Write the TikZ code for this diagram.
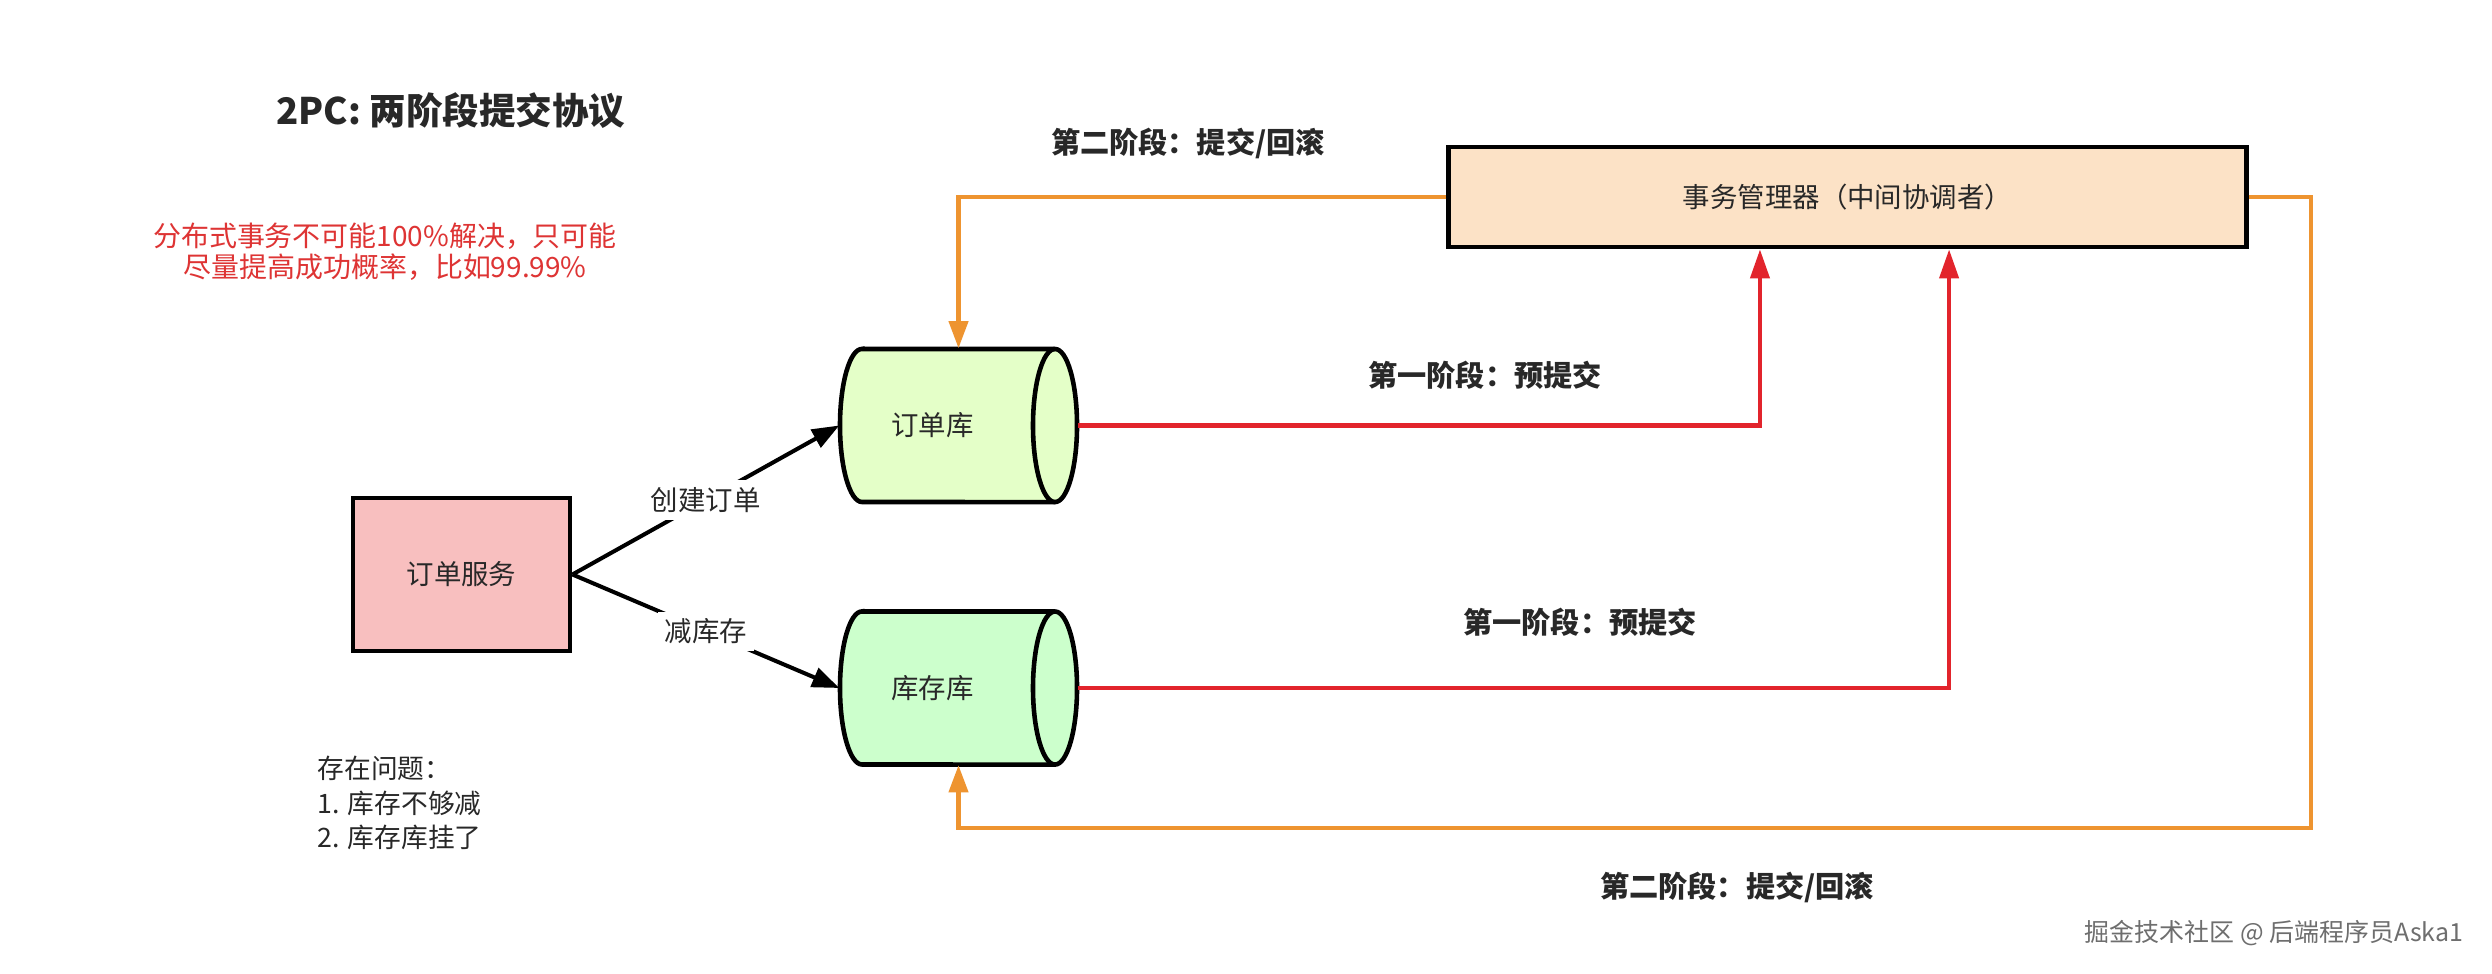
\documentclass[tikz,border=0pt]{standalone}
\usepackage{fontspec}
\setmainfont{Noto Sans CJK SC}
\usetikzlibrary{arrows.meta,calc}
\definecolor{svcfill}{RGB}{248,191,191}
\definecolor{ordfill}{RGB}{228,255,200}
\definecolor{stkfill}{RGB}{204,255,204}
\definecolor{mgrfill}{RGB}{252,226,198}
\definecolor{orangeln}{RGB}{238,148,48}
\definecolor{redln}{RGB}{226,36,44}
\definecolor{redtxt}{RGB}{222,52,52}
\definecolor{wmgray}{RGB}{110,110,110}
\definecolor{txt}{RGB}{40,40,40}
\newcommand\hcyl[5]{%
  \filldraw[cyl, fill=#5] ({#1-#3/2+22},{-#2+#4/2}) -- ({#1+#3/2-22},{-#2+#4/2})
    arc[start angle=90,end angle=-90,x radius=6.26pt,y radius={#4*0.14226pt}]
    -- ({#1-#3/2+22},{-#2-#4/2})
    arc[start angle=270,end angle=90,x radius=6.26pt,y radius={#4*0.14226pt}] -- cycle;
  \draw[cyl] ({#1+#3/2-22},{-#2+#4/2})
    arc[start angle=90,end angle=270,x radius=6.26pt,y radius={#4*0.14226pt}];
}
\begin{document}
\begin{tikzpicture}[x=0.01cm,y=0.01cm,
  every node/.style={font=\fontsize{7.8}{9.8}\selectfont, inner sep=0pt, text=txt},
  box/.style={draw=black, line width=1.35pt},
  cyl/.style={draw=black, line width=1.3pt},
  phase/.style={font=\fontsize{8.3}{10}\selectfont\bfseries},
  blackarrow/.style={draw=black, line width=1.15pt, -{Triangle[length=0.27cm,width=0.2cm]}},
  redarrow/.style={draw=redln, line width=1.15pt, -{Triangle[length=0.29cm,width=0.19cm]}},
  orangearrow/.style={draw=orangeln, line width=1.15pt, -{Triangle[length=0.27cm,width=0.19cm]}},
  edgelabel/.style={fill=white, inner sep=2pt}]
\useasboundingbox[fill=white] (0,0) rectangle (2492,-974);

% title and notes
\node[font=\fontsize{10.4}{12}\selectfont\bfseries] (title) at (451,-111) {2PC: 两阶段提交协议};
\node[align=center, text=redtxt, font=\fontsize{7.95}{8.8}\selectfont] (note) at (385,-252)
  {分布式事务不可能100\%解决，只可能\\尽量提高成功概率，比如99.99\%};
\node[align=left, anchor=west, font=\fontsize{7.6}{9.8}\selectfont] (issues) at (317,-803)
  {存在问题：\\1. 库存不够减\\2. 库存库挂了};

% nodes
\node[box, fill=svcfill, minimum width=2.17cm, minimum height=1.53cm] (svc) at (461.5,-574.5) {订单服务};
\hcyl{958.5}{425.5}{237}{153}{ordfill}
\node[minimum width=2.37cm, minimum height=1.53cm] (ordb) at (958.5,-425.5) {订单库\kern0.52cm};
\hcyl{958.5}{688}{237}{153}{stkfill}
\node[minimum width=2.37cm, minimum height=1.53cm] (stkdb) at (958.5,-688) {库存库\kern0.52cm};
\node[box, fill=mgrfill, minimum width=7.97cm, minimum height=1cm] (mgr) at (1847.5,-197) {事务管理器（中间协调者）};

% black connectors
\draw[blackarrow] (svc.east) -- node[edgelabel]{创建订单} (ordb.west);
\draw[blackarrow] (svc.east) -- node[edgelabel]{减库存} (stkdb.west);

% red connectors
\draw[redarrow] (ordb.east) -| ([xshift=-0.875cm]mgr.south);
\draw[redarrow] (stkdb.east) -| ([xshift=1.015cm]mgr.south);

% orange connectors
\draw[orangearrow] (mgr.west) -| (ordb.north);
\draw[orangearrow] (mgr.east) -- ++(0.62cm,0) |- ([yshift=-0.625cm]stkdb.south) -- (stkdb.south);

% phase labels
\node[phase] (ph2a) at (1188,-143) {第二阶段：提交/回滚};
\node[phase] (ph1a) at (1485,-375) {第一阶段：预提交};
\node[phase] (ph1b) at (1580,-622) {第一阶段：预提交};
\node[phase] (ph2b) at (1737,-887) {第二阶段：提交/回滚};

% watermark
\node[text=wmgray, font=\fontsize{7.1}{8.5}\selectfont, anchor=east] (wm) at (2464,-933) {掘金技术社区 @ 后端程序员Aska1};
\end{tikzpicture}
\end{document}
